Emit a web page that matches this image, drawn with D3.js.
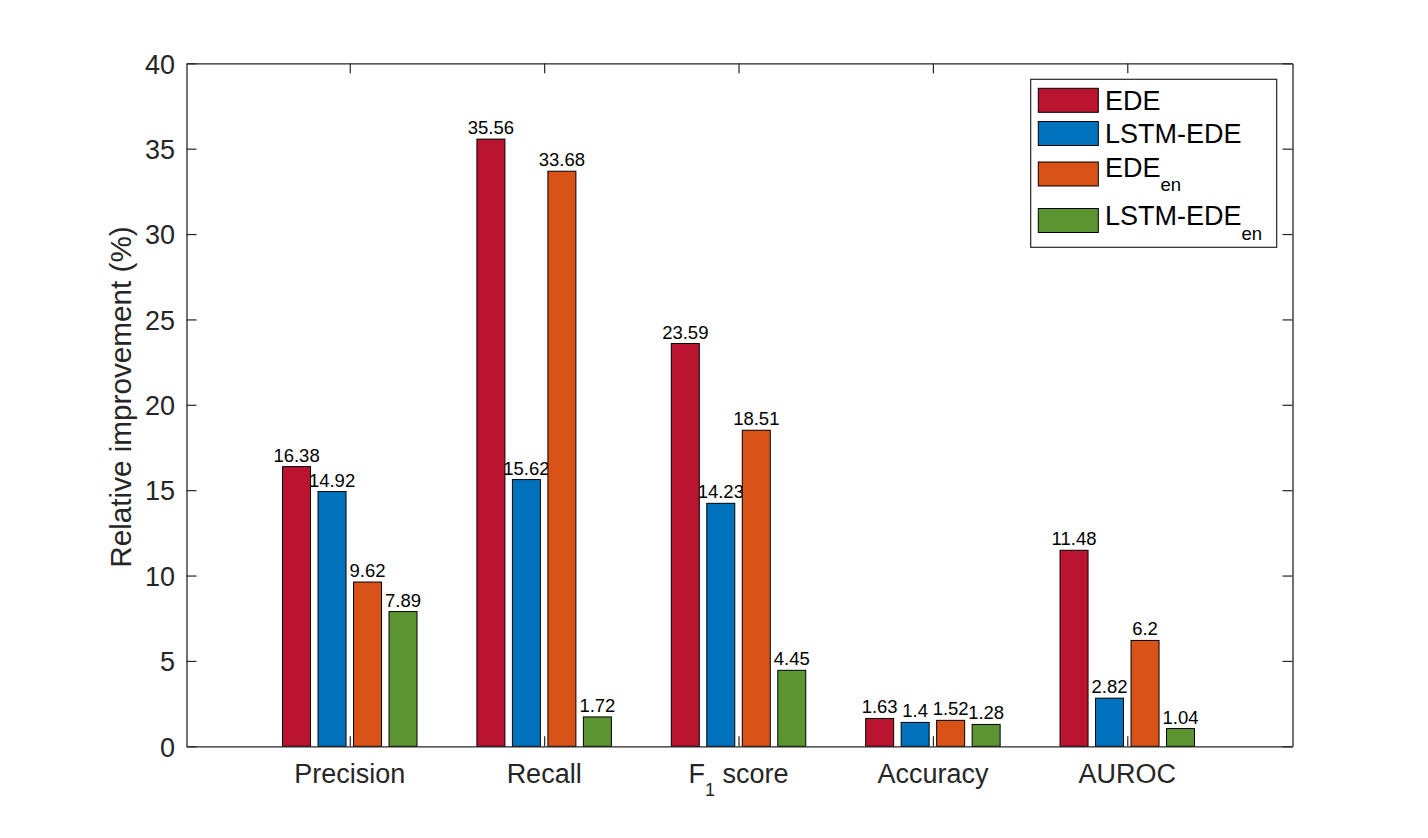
<!DOCTYPE html>
<html>
<head>
<meta charset="utf-8">
<script src="https://cdn.jsdelivr.net/npm/d3@7"></script>
<style>
  body { margin: 0; background: #fff; }
  text { font-family: "Liberation Sans", Arial, Helvetica, sans-serif; }
</style>
</head>
<body>
<div id="chart"></div>
<script>
// Relative improvement per metric, four model variants.
const categories = ["Precision", "Recall", "F_{1} score", "Accuracy", "AUROC"];
const seriesNames = ["EDE", "LSTM-EDE", "EDE_{en}", "LSTM-EDE_{en}"];
const ede       = [16.38, 35.56, 23.59, 1.63, 11.48];
const lstmEde   = [14.92, 15.62, 14.23, 1.4, 2.82];
const edeEn     = [9.62, 33.68, 18.51, 1.52, 6.2];
const lstmEdeEn = [7.89, 1.72, 4.45, 1.28, 1.04];
const yTicks = [0, 5, 10, 15, 20, 25, 30, 35, 40];
const yLabel = "Relative improvement (%)";

const seriesValues = [ede, lstmEde, edeEn, lstmEdeEn];
const colors = ["#BA1430", "#0072BD", "#D95319", "#5C9432"];
const axisColor = "#262626";

const W = 1428, H = 838;
const plot = {left: 186.5, top: 63.3, right: 1292.5, bottom: 746.3};

const svg = d3.select("#chart").append("svg")
    .attr("width", W)
    .attr("height", H);

const x = d3.scaleLinear()
    .domain([0.16, 5.85])
    .range([plot.left, plot.right]);

const y = d3.scaleLinear()
    .domain([0, 40])
    .range([plot.bottom, plot.top]);

// text with "_{...}" parts written as subscripts
function richText(sel, str, subSize, subShift) {
  let parts = str.split(/(_\{[^}]*\})/).filter(s => s.length);
  let shifted = false;
  parts.forEach(p => {
    let m = p.match(/^_\{(.*)\}$/);
    if (m) {
      sel.append("tspan").attr("dy", subShift).style("font-size", subSize + "px").text(m[1]);
      shifted = true;
    } else {
      let t = sel.append("tspan").text(p);
      if (shifted) { t.attr("dy", -subShift); shifted = false; }
    }
  });
}

// bars
const barW = 0.144, pitch = 0.1826;
seriesValues.forEach((vals, s) => {
  let off = (s - 1.5) * pitch;
  let g = svg.append("g");
  g.selectAll("rect")
    .data(vals)
    .join("rect")
      .attr("x", (d, i) => x(i + 1 + off - barW / 2))
      .attr("y", d => y(d))
      .attr("width", x(barW) - x(0))
      .attr("height", d => y(0) - y(d))
      .attr("fill", colors[s])
      .attr("stroke", "#000")
      .attr("stroke-width", 1);
  g.selectAll("text")
    .data(vals)
    .join("text")
      .attr("x", (d, i) => x(i + 1 + off))
      .attr("y", d => y(d) - 5)
      .attr("text-anchor", "middle")
      .style("font-size", "18.5px")
      .attr("fill", "#000")
      .text(d => String(d));
});

// axes box
const tickIdx = categories.map((c, i) => i + 1);

const axLeft = svg.append("g")
    .attr("transform", `translate(${plot.left},0)`)
    .call(d3.axisLeft(y).tickValues(yTicks).tickSizeInner(-10).tickSizeOuter(0).tickPadding(11.5));
const axRight = svg.append("g")
    .attr("transform", `translate(${plot.right},0)`)
    .call(d3.axisRight(y).tickValues(yTicks).tickSizeInner(-10).tickSizeOuter(0).tickFormat(""));
const axBottom = svg.append("g")
    .attr("transform", `translate(0,${plot.bottom})`)
    .call(d3.axisBottom(x).tickValues(tickIdx).tickSizeInner(-10).tickSizeOuter(0).tickFormat(""));
const axTop = svg.append("g")
    .attr("transform", `translate(0,${plot.top})`)
    .call(d3.axisTop(x).tickValues(tickIdx).tickSizeInner(-10).tickSizeOuter(0).tickFormat(""));

[axLeft, axRight, axBottom, axTop].forEach(a => {
  a.select(".domain").attr("stroke", axisColor).attr("stroke-width", 1.3);
  a.selectAll(".tick line").attr("stroke", axisColor).attr("stroke-width", 1.2);
});
axLeft.selectAll(".tick text")
    .attr("fill", axisColor)
    .attr("dy", "0.36em")
    .style("font-size", "27px")
    .style("font-family", '"Liberation Sans", Arial, Helvetica, sans-serif');

// category labels
categories.forEach((c, i) => {
  let t = svg.append("text")
      .attr("x", x(i + 1))
      .attr("y", 782.7)
      .attr("text-anchor", "middle")
      .attr("fill", axisColor)
      .style("font-size", "27px");
  richText(t, c, 18, 13.5);
});

// y label
svg.append("text")
    .attr("transform", `translate(131,397) rotate(-90)`)
    .attr("text-anchor", "middle")
    .attr("fill", axisColor)
    .style("font-size", "29.7px")
    .text(yLabel);

// legend
const leg = {x: 1030.7, y: 79.3, w: 246, h: 168};
const swatchTop = [88.3, 121.5, 162, 208.5];
const textBase = [110, 143.3, 176.7, 225];
svg.append("rect")
    .attr("x", leg.x).attr("y", leg.y)
    .attr("width", leg.w).attr("height", leg.h)
    .attr("fill", "#fff")
    .attr("stroke", axisColor)
    .attr("stroke-width", 1.2);
seriesNames.forEach((name, s) => {
  svg.append("rect")
      .attr("x", 1038.3).attr("y", swatchTop[s])
      .attr("width", 60).attr("height", 24)
      .attr("fill", colors[s])
      .attr("stroke", "#000")
      .attr("stroke-width", 1);
  let t = svg.append("text")
      .attr("x", 1105)
      .attr("y", textBase[s])
      .attr("fill", "#000")
      .style("font-size", "27px");
  richText(t, name, 18.5, 14.5);
});
</script>
</body>
</html>
